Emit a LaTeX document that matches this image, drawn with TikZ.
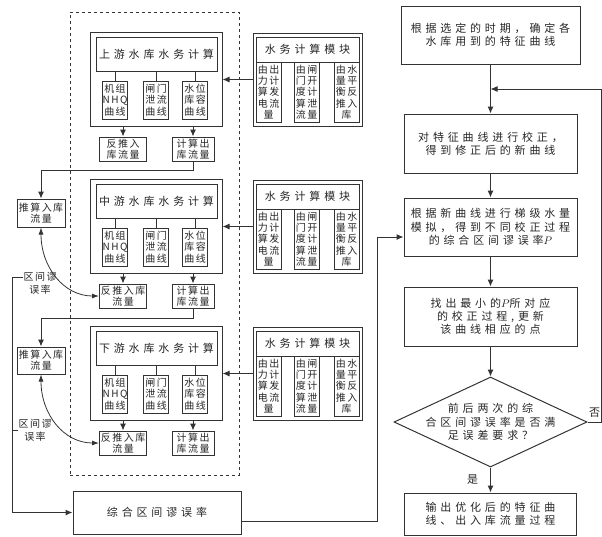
\documentclass[tikz,border=0pt]{standalone}
\usepackage{fontspec}
\setmainfont{Noto Sans CJK SC}[LetterSpace=35]
\newfontfamily\smallcjk{Noto Sans CJK SC}[LetterSpace=15]
\usepackage{tikz}
\usetikzlibrary{positioning}
\usetikzlibrary{shapes.geometric}
\usetikzlibrary{arrows.meta}
\usetikzlibrary{calc}
\tikzset{box/.style={draw=black!80, line width=1pt, inner sep=0pt, align=center, text=black!85, font=\fontsize{11}{13.3}\selectfont}, small/.style={box, font=\smallcjk\fontsize{10}{11.3}\selectfont}}

\begin{document}
\begin{tikzpicture}[x=1pt, y=-1pt,
    plain/.style={inner sep=0pt, align=center, text=black!85, font=\fontsize{11}{13.3}\selectfont},
    note/.style={inner sep=0pt, align=center, text=black!85, font=\smallcjk\fontsize{10}{12.7}\selectfont},
    decision/.style={diamond, draw=black!80, line width=1pt, inner sep=0pt, minimum width=193, minimum height=90},
    frame/.style={draw=black!80, dashed, line width=0.8pt, inner sep=0pt},
    arrow/.style={-{Latex[length=7pt, width=6pt]}, draw=black!80, line width=1pt},
    twoway/.style={{Latex[length=7pt, width=5pt]}-{Latex[length=7pt, width=5pt]}, draw=black!80, line width=0.8pt},
    link/.style={draw=black!80, line width=1pt}
]
\useasboundingbox (0,0) rectangle (602,536);

% Reservoir blocks
\node[frame, minimum width=169, minimum height=463] (group) at (154.5,243.5) {};
\foreach \i/\yy/\blkname/\fan in {1/32/上游/{反推入\\库流量}, 2/179/中游/{反推入库\\流量}, 3/326/下游/{反推入库\\流量}} {
  \node[box, minimum width=132, minimum height=94] (blk\i) at (156,\yy+47) {};
  \node[box, minimum width=121, minimum height=34] (ttl\i) at (156.5,\yy+22) {\blkname 水库水务计算};
  \node[small, minimum width=25, minimum height=38] (sa\i) at (115,\yy+68) {机组\\NHQ\\曲线};
  \node[small, minimum width=25, minimum height=38] (sb\i) at (156,\yy+68) {闸门\\泄流\\曲线};
  \node[small, minimum width=25, minimum height=38] (sc\i) at (195,\yy+68) {水位\\库容\\曲线};
  \node[small, minimum width=47, minimum height=24] (fan\i) at (123,\yy+117) {\fan};
  \node[small, minimum width=42, minimum height=24] (calc\i) at (193,\yy+117) {计算出\\库流量};
  \node[box, minimum width=109, minimum height=93] (mod\i) at (307.5,\yy+47.5) {};
  \node[box, minimum width=103, minimum height=25] (mt\i) at (307.5,\yy+17.5) {水务计算模块};
  \node[small, minimum width=25, minimum height=60] (ma\i) at (268.5,\yy+60) {由出\\力计\\算发\\电流\\量};
  \node[small, minimum width=25, minimum height=60] (mb\i) at (306.5,\yy+60) {由闸\\门开\\度计\\算泄\\流量};
  \node[small, minimum width=25, minimum height=60] (mc\i) at (346.5,\yy+60) {由水\\量平\\衡反\\推入\\库};
  \foreach \s in {sa,sb,sc} \draw[link] (\s\i.north) -- (\s\i.north |- ttl\i.south);
  \draw[arrow] (fan\i.north |- blk\i.south) -- (fan\i.north);
  \draw[arrow] (calc\i.north |- blk\i.south) -- (calc\i.north);
  \draw[arrow] (mod\i.west) -- (mod\i.west -| blk\i.east);
}

% Left nodes
\node[small, minimum width=48, minimum height=28] (est1) at (41,213) {推算入库\\流量};
\node[small, minimum width=48, minimum height=27] (est2) at (41,360.5) {推算入库\\流量};
\node[box, minimum width=168, minimum height=43] (sum) at (157,512.5) {综合区间谬误率};
\node[note] (err1) at (40,283.5) {区间谬\\误率};
\node[note] (err2) at (35,430) {区间谬\\误率};
\coordinate (e1) at (12,277);
\coordinate (e2) at (12,430);

% Right flow
\node[box, minimum width=179, minimum height=58] (b1) at (490.5,35) {根据选定的时期，确定各\\水库用到的特征曲线};
\node[box, minimum width=173, minimum height=59] (b2) at (490.5,143.5) {对特征曲线进行校正，\\得到修正后的新曲线};
\node[box, minimum width=173, minimum height=58] (b3) at (490.5,227) {根据新曲线进行梯级水量\\模拟，得到不同校正过程\\的综合区间谬误率$P$};
\node[box, minimum width=173, minimum height=59] (b4) at (490.5,316.5) {找出最小的$P$所对应\\的校正过程,更新\\该曲线相应的点};
\node[decision] (dec) at (490.5,422) {};
\node[plain] (dectext) at (dec) {前后两次的综\\合区间谬误率是否满\\足误差要求？};
\node[box, minimum width=172, minimum height=42] (b5) at (490.5,514) {输出优化后的特征曲\\线、出入库流量过程};

% Paths
\draw[arrow] (calc1.south) -- ++(0,9) -| (est1.north);
\draw[arrow] (calc2.south) -- ++(0,10) -| (est2.north);
\draw[twoway] (est1.south) .. controls +(0,40) and +(-35,0) .. (fan2.west);
\draw[twoway] (est2.south) .. controls +(0,40) and +(-35,0) .. (fan3.west);
\draw[arrow] (err1.west |- e1) -- (e1) |- (sum.west);
\draw[link] (err2.west |- e2) -- (e2);
\draw[arrow] ([yshift=-9pt]sum.east) -| ([xshift=-26pt, yshift=-10pt]b3.west) -- ([yshift=-10pt]b3.west);
\draw[arrow] (b1) -- (b2);
\draw[arrow] (b2) -- (b3);
\draw[arrow] (b3) -- (b4);
\draw[arrow] (b4) -- (dec);
\draw[arrow] (dec) -- node[plain, left=12pt] {是} (b5);
\draw[arrow] (dec.east) -- node[plain, above=4pt] {否} ++(14,0) |- ($(b1.south)!0.5!(b2.north)$);

\end{tikzpicture}
\end{document}
